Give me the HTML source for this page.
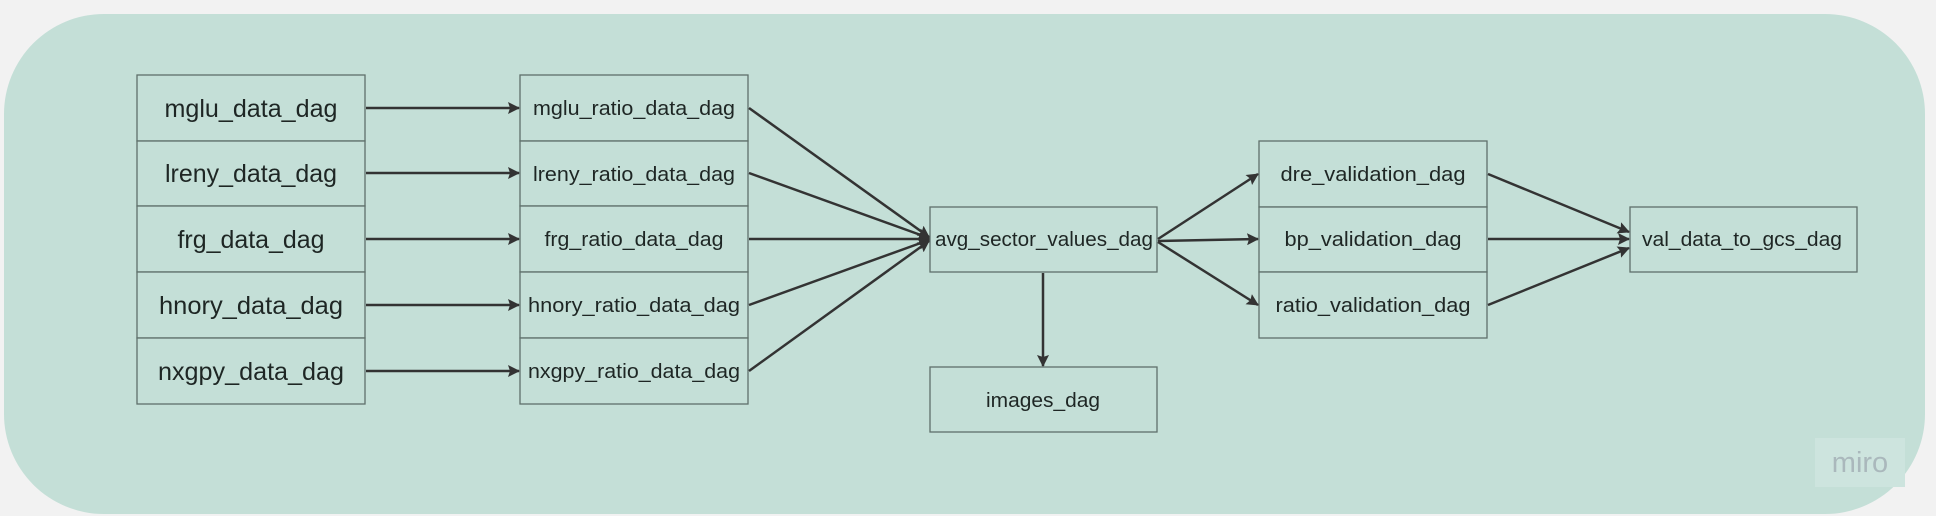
<!DOCTYPE html>
<html><head><meta charset="utf-8"><style>
html,body{margin:0;padding:0;background:#f2f2f2;}
svg{display:block;}
text{font-family:"Liberation Sans","DejaVu Sans",sans-serif;fill:#1e2624;}
</style></head><body>
<svg width="1936" height="516" viewBox="0 0 1936 516" xmlns="http://www.w3.org/2000/svg">
<defs>
<marker id="a" markerWidth="12" markerHeight="12" refX="11" refY="6" orient="auto" markerUnits="userSpaceOnUse">
<path d="M0,0 L12,6 L0,12 L2,6 Z" fill="#333"/>
</marker>
</defs>
<rect x="4" y="14" width="1921" height="500" rx="100" ry="100" fill="#c4dfd7"/>
<g fill="#c4dfd7" stroke="#5f706b" stroke-width="1.3">
<rect x="137" y="75" width="228" height="66"/>
<rect x="137" y="141" width="228" height="65"/>
<rect x="137" y="206" width="228" height="66"/>
<rect x="137" y="272" width="228" height="66"/>
<rect x="137" y="338" width="228" height="66"/>
<rect x="520" y="75" width="228" height="66"/>
<rect x="520" y="141" width="228" height="65"/>
<rect x="520" y="206" width="228" height="66"/>
<rect x="520" y="272" width="228" height="66"/>
<rect x="520" y="338" width="228" height="66"/>
<rect x="930" y="207" width="227" height="65"/>
<rect x="930" y="367" width="227" height="65"/>
<rect x="1259" y="141" width="228" height="66"/>
<rect x="1259" y="207" width="228" height="65"/>
<rect x="1259" y="272" width="228" height="66"/>
<rect x="1630" y="207" width="227" height="65"/>
</g>
<g font-size="25" text-anchor="middle">
<text x="251" y="117" textLength="173" lengthAdjust="spacingAndGlyphs">mglu_data_dag</text>
<text x="251" y="182" textLength="172" lengthAdjust="spacingAndGlyphs">lreny_data_dag</text>
<text x="251" y="248" textLength="147" lengthAdjust="spacingAndGlyphs">frg_data_dag</text>
<text x="251" y="314" textLength="184" lengthAdjust="spacingAndGlyphs">hnory_data_dag</text>
<text x="251" y="380" textLength="186" lengthAdjust="spacingAndGlyphs">nxgpy_data_dag</text>
</g>
<g font-size="20" text-anchor="middle">
<text x="634" y="115" textLength="202" lengthAdjust="spacingAndGlyphs">mglu_ratio_data_dag</text>
<text x="634" y="181" textLength="202" lengthAdjust="spacingAndGlyphs">lreny_ratio_data_dag</text>
<text x="634" y="246" textLength="179" lengthAdjust="spacingAndGlyphs">frg_ratio_data_dag</text>
<text x="634" y="312" textLength="212" lengthAdjust="spacingAndGlyphs">hnory_ratio_data_dag</text>
<text x="634" y="378" textLength="212" lengthAdjust="spacingAndGlyphs">nxgpy_ratio_data_dag</text>
<text x="1044" y="246" textLength="218" lengthAdjust="spacingAndGlyphs">avg_sector_values_dag</text>
<text x="1043" y="407" textLength="114" lengthAdjust="spacingAndGlyphs">images_dag</text>
<text x="1373" y="181" textLength="185" lengthAdjust="spacingAndGlyphs">dre_validation_dag</text>
<text x="1373" y="246" textLength="177" lengthAdjust="spacingAndGlyphs">bp_validation_dag</text>
<text x="1373" y="312" textLength="195" lengthAdjust="spacingAndGlyphs">ratio_validation_dag</text>
<text x="1742" y="246" textLength="200" lengthAdjust="spacingAndGlyphs">val_data_to_gcs_dag</text>
</g>
<g stroke="#333" stroke-width="2.5" fill="none" marker-end="url(#a)">
<line x1="366" y1="108" x2="519" y2="108"/>
<line x1="366" y1="173" x2="519" y2="173"/>
<line x1="366" y1="239" x2="519" y2="239"/>
<line x1="366" y1="305" x2="519" y2="305"/>
<line x1="366" y1="371" x2="519" y2="371"/>
<line x1="749" y1="108" x2="929" y2="237"/>
<line x1="749" y1="173" x2="929" y2="238"/>
<line x1="749" y1="239" x2="929" y2="239"/>
<line x1="749" y1="305" x2="929" y2="240"/>
<line x1="749" y1="371" x2="929" y2="241"/>
<line x1="1158" y1="239" x2="1258" y2="174"/>
<line x1="1158" y1="241" x2="1258" y2="239"/>
<line x1="1158" y1="242" x2="1258" y2="305"/>
<line x1="1488" y1="174" x2="1629" y2="232"/>
<line x1="1488" y1="239" x2="1629" y2="239"/>
<line x1="1488" y1="305" x2="1629" y2="248"/>
<line x1="1043" y1="273" x2="1043" y2="366"/>
</g>
<rect x="1815" y="438" width="90" height="49" fill="#cde4de"/>
<text x="1860" y="472" font-size="29" text-anchor="middle" style="fill:#aab8bc">miro</text>
</svg>
</body></html>
